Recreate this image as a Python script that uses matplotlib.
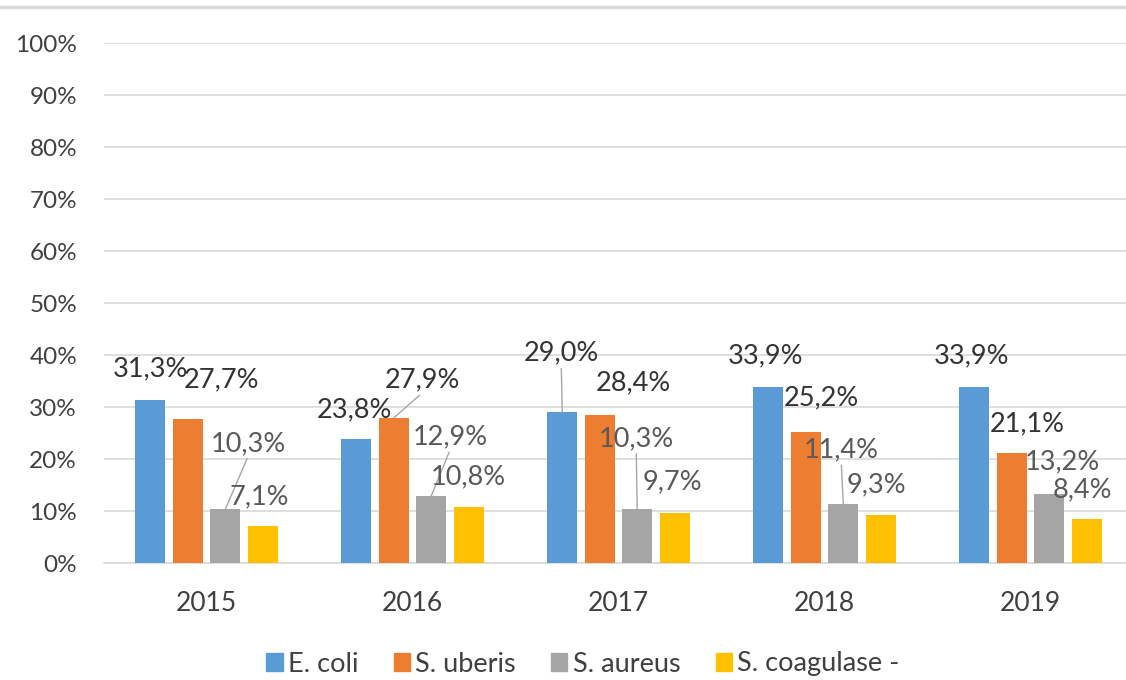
import matplotlib
matplotlib.use("Agg")
import matplotlib.pyplot as plt
import numpy as np
from matplotlib.lines import Line2D
from matplotlib.patches import Patch

years = ["2015", "2016", "2017", "2018", "2019"]
series_names = ["E. coli", "S. uberis", "S. aureus", "S. coagulase -"]
ecoli = [31.3, 23.8, 29.0, 33.9, 33.9]
suberis = [27.7, 27.9, 28.4, 25.2, 21.1]
saureus = [10.3, 12.9, 10.3, 11.4, 13.2]
scoag = [7.1, 10.8, 9.7, 9.3, 8.4]
yticks = list(range(0, 101, 10))

colors = ["#5B9BD5", "#ED7D31", "#A5A5A5", "#FFC000"]
label_colors = ["#333333", "#333333", "#595959", "#595959"]
# label placement (pixels): dx, height of text centre above bar top, leader line
label_pos = [
    [(0, 31, 0), (-2, 29, 0), (-1, 59, 1), (-3, 31, 0), (-3, 31, 0)],
    [(34, 39, 0), (29, 38, 1), (34, 33, 0), (16, 34, 0), (15, 29, 0)],
    [(23, 66, 1), (19, 59, 1), (-1, 71, 1), (-2, 54, 1), (13, 33, 0)],
    [(-3, 29, 0), (0, 30, 0), (-2, 31, 0), (-4, 30, 0), (-4, 30, 0)],
]

plt.rcParams["font.family"] = ["Lato", "DejaVu Sans"]

W, H = 1126, 680
fig = plt.figure(figsize=(W / 100, H / 100), dpi=100)
ax = fig.add_axes([103.5 / W, 117 / H, 1030 / W, 520 / H])

x = np.arange(len(years))
step = 0.182
width = 0.146
data = [ecoli, suberis, saureus, scoag]
for j, vals in enumerate(data):
    xs = x + (j - 1.5) * step
    ax.bar(xs, vals, width, color=colors[j], zorder=3)
    for i, v in enumerate(vals):
        dx, dy, lead = label_pos[j][i]
        kw = {}
        if lead:
            kw["arrowprops"] = dict(arrowstyle="-", color="#a6a6a6", lw=1,
                                    relpos=(0.5, 0), shrinkA=0, shrinkB=0)
        ax.annotate(f"{v:.1f}%".replace(".", ","), xy=(xs[i], v),
                    xytext=(dx, dy), textcoords="offset pixels",
                    ha="center", va="center", fontsize=19.5,
                    color=label_colors[j], zorder=5, **kw)

ax.set_xlim(-0.5, 4.5)
ax.set_ylim(0, 100)
ax.set_yticks(yticks)
ax.set_yticklabels([f"{t}%" for t in yticks])
ax.set_xticks(x)
ax.set_xticklabels(years)
ax.tick_params(axis="y", length=0, pad=19, labelsize=17.5, labelcolor="#404040")
ax.tick_params(axis="x", length=0, pad=20, labelsize=19, labelcolor="#404040")
ax.grid(axis="y", color="#d9d9d9", lw=1.2, zorder=0)
for s in ["top", "right", "left"]:
    ax.spines[s].set_visible(False)
ax.spines["bottom"].set_color("#d9d9d9")
ax.spines["bottom"].set_linewidth(1.2)

fig.add_artist(Line2D([0, 1], [1 - 7 / H] * 2, color="#d9d9d9", lw=2.5))

handles = [Patch(color=c) for c in colors]
fig.legend(handles, series_names, loc="center", bbox_to_anchor=(583 / W, 1 - 664 / H),
           ncol=4, frameon=False, fontsize=19.5, handlelength=0.6, handleheight=0.6,
           handletextpad=0.2, columnspacing=1.3, labelcolor="#404040")

fig.savefig("out.png", dpi=100)
